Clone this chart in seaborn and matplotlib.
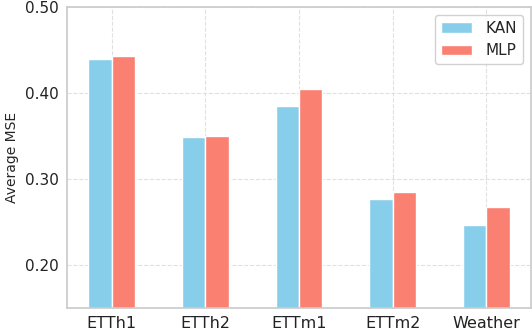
import numpy as np
import pandas as pd
import seaborn as sns
import matplotlib.pyplot as plt
from matplotlib.ticker import FormatStrFormatter

datasets = ["ETTh1", "ETTh2", "ETTm1", "ETTm2", "Weather"]
kan_mse = [0.440, 0.349, 0.385, 0.277, 0.247]
mlp_mse = [0.443, 0.350, 0.405, 0.285, 0.268]

df = pd.DataFrame({
    "Dataset": datasets * 2,
    "MSE": kan_mse + mlp_mse,
    "Model": ["KAN"] * len(datasets) + ["MLP"] * len(datasets),
})

sns.set_theme(style="whitegrid")
plt.rcParams['font.family'] = ['DejaVu Sans']

fig, ax = plt.subplots(figsize=(5.32, 3.32), dpi=100)
sns.barplot(data=df, x="Dataset", y="MSE", hue="Model",
            palette={"KAN": "skyblue", "MLP": "salmon"},
            width=0.5, edgecolor="white", linewidth=1, saturation=1, ax=ax)

ax.set_ylim(0.15, 0.50)
ax.set_yticks([0.20, 0.30, 0.40, 0.50])
ax.yaxis.set_major_formatter(FormatStrFormatter("%.2f"))
ax.set_xlim(-0.475, 4.475)
ax.grid(True, axis="both", linestyle="--", color="#e0e0e0", linewidth=0.8)
ax.set_axisbelow(True)
for s in ax.spines.values():
    s.set_color("#cccccc")
ax.set_xlabel("")
ax.set_ylabel("Average MSE", fontsize=10)
ax.tick_params(axis="y", labelsize=11, colors="#222222", length=0, pad=6)
ax.tick_params(axis="x", labelsize=11.5, colors="#222222", length=0, pad=6)
ax.legend(title=None, loc="upper right", fontsize=11, frameon=True,
          framealpha=0.9, handlelength=2.0, borderpad=0.4,
          borderaxespad=0.5, handletextpad=0.9)

fig.subplots_adjust(left=0.126, right=0.998, top=0.979, bottom=0.072)
fig.savefig("out.png")
